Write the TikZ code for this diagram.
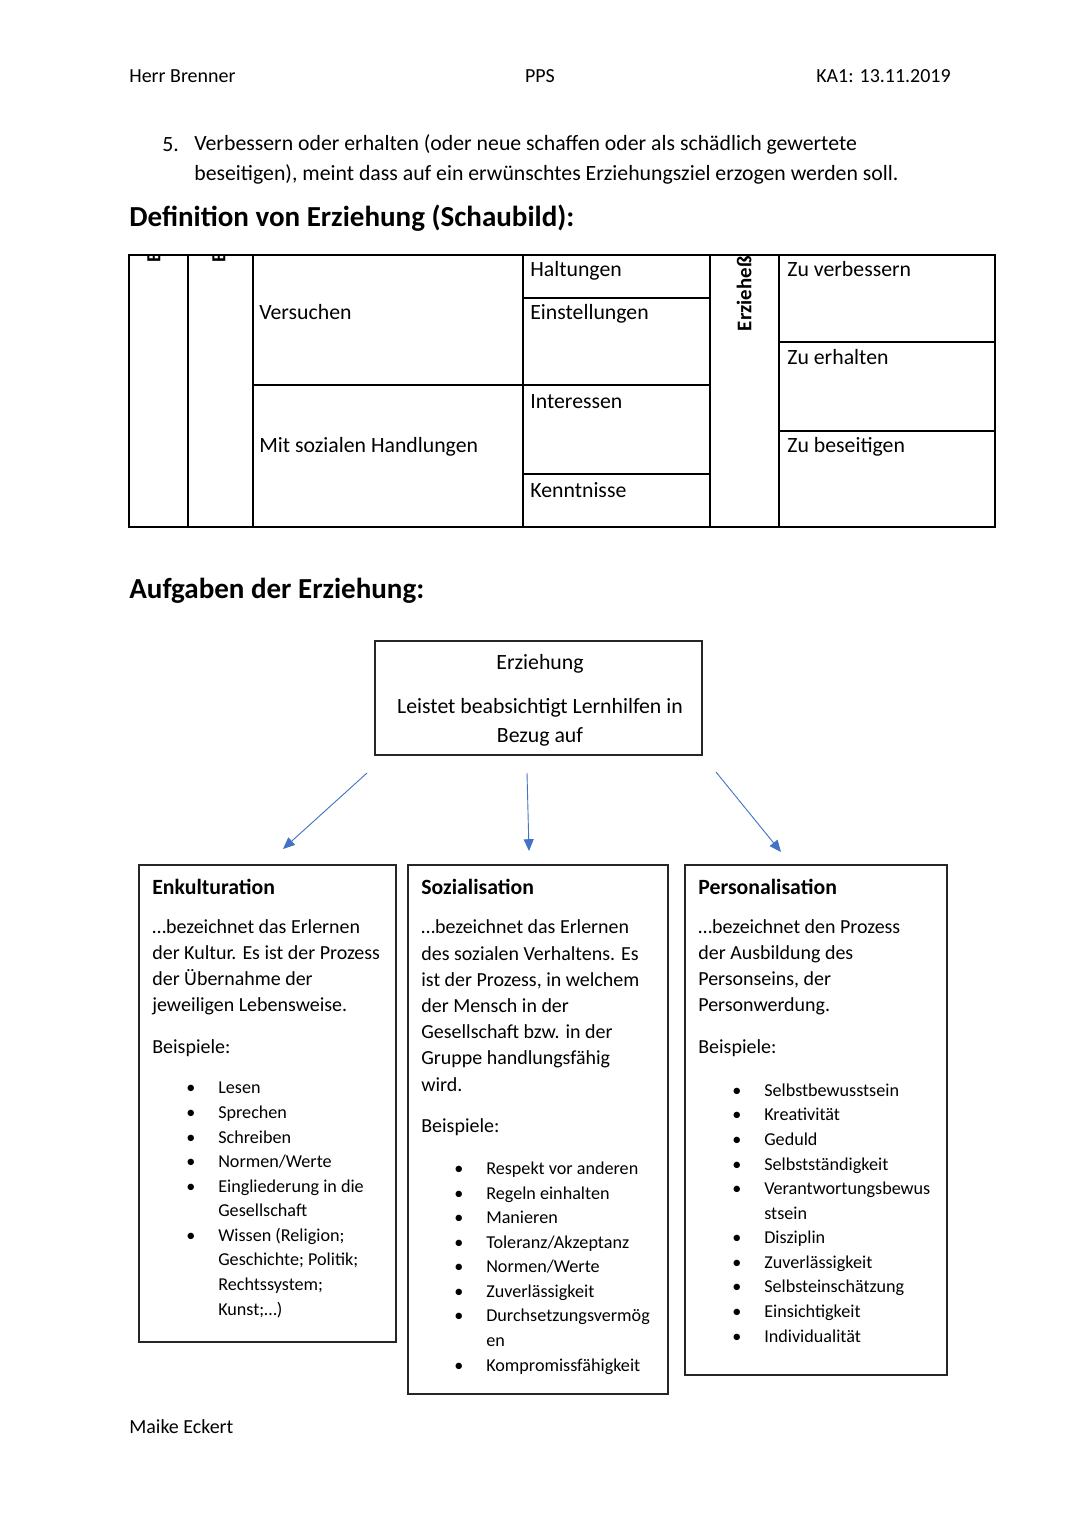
\documentclass[tikz,border=0pt]{standalone}
\usepackage{fontspec}
\setmainfont{Carlito}
\usetikzlibrary{positioning,arrows.meta}
\definecolor{arblue}{HTML}{4472C4}
\newcommand{\bul}{\makebox[17.6pt][l]{\textbullet}}
\newcommand{\bulgap}{\hspace*{17.6pt}}

\begin{document}
\begin{tikzpicture}[x=0.5513pt,y=-0.5513pt,
  txt/.style={inner sep=0,anchor=base west,font=\fontsize{11}{14.3}\selectfont},
  big/.style={inner sep=0,anchor=base west,font=\fontsize{12}{14.5}\selectfont},
  para/.style={inner sep=0,anchor=base west,align=left,font=\fontsize{11}{14.3}\selectfont},
  list/.style={inner sep=0,anchor=base west,align=left,font=\fontsize{10}{13.54}\selectfont},
  head/.style={inner sep=0,anchor=base west,font=\fontsize{16}{19}\selectfont\bfseries},
  title/.style={inner sep=0,anchor=base west,font=\fontsize{12}{14}\selectfont\bfseries},
  tline/.style={line width=1.1pt},
  box/.style={draw=black!85,line width=0.8pt,rectangle,inner sep=0},
  arr/.style={-{Triangle[length=6.5pt,width=5.5pt]},arblue,line width=0.5pt}]
\useasboundingbox[fill=white] (0,0) rectangle (1080,1527);
% page header
\node[txt] (hdl) at (129,82) {Herr Brenner};
\node[txt,anchor=base] (hdm) at (540,82) {PPS};
\node[txt,anchor=base east] (hdr) at (951,82) {KA1: 13.11.2019};
\node[big] (num5) at (162,151) {5.};
\node[big,align=left,font=\fontsize{12}{16}\selectfont] (item5) at (194,180) {Verbessern oder erhalten (oder neue schaffen oder als sch\"adlich gewertete\\beseitigen), meint dass auf ein erw\"unschtes Erziehungsziel erzogen werden soll.};
\node[head] (defhead) at (129,226) {Definition von Erziehung (Schaubild):};
% table
\draw[tline] (129,255) rectangle (995,527);
\foreach \cx in {188,253,523,710,779} \draw[tline] (\cx,255) -- (\cx,527);
\draw[tline] (253,385) -- (523,385);
\foreach \cy in {298,385,474} \draw[tline] (523,\cy) -- (710,\cy);
\foreach \cy in {342,431} \draw[tline] (779,\cy) -- (995,\cy);
\begin{scope}
  \clip (129,256) rectangle (253,527);
  \node[rotate=90,anchor=west,inner sep=0,font=\fontsize{11}{13}\selectfont\bfseries] (e1) at (154,263) {E};
  \node[rotate=90,anchor=west,inner sep=0,font=\fontsize{11}{13}\selectfont\bfseries] (e2) at (219,263) {E};
\end{scope}
\node[big] (halt) at (530,276) {Haltungen};
\node[big] (vers) at (259,319) {Versuchen};
\node[big] (einst) at (530,319) {Einstellungen};
\node[big] (inter) at (530,408) {Interessen};
\node[big] (handl) at (259,452) {Mit sozialen Handlungen};
\node[big] (kennt) at (530,497) {Kenntnisse};
\node[big] (verb) at (787,276) {Zu verbessern};
\node[big] (erh) at (787,364) {Zu erhalten};
\node[big] (besei) at (787,452) {Zu beseitigen};
\node[rotate=90,anchor=east,inner sep=0,font=\fontsize{11.5}{13}\selectfont\bfseries] (erzd) at (744,256) {Erziehe\ss};
% tasks
\node[head] (aufhead) at (129,598) {Aufgaben der Erziehung:};
\node[box,minimum width=180.3pt,minimum height=62.8pt] (lern) at (538.5,698) {};
\node[big,anchor=base] (lt1) at (540,669) {Erziehung};
\node[big,anchor=base] (lt2) at (540,713) {Leistet beabsichtigt Lernhilfen in};
\node[big,anchor=base] (lt3) at (540,742) {Bezug auf};
\node[box,minimum width=141.7pt,minimum height=263pt] (enk) at (267.5,1103.5) {};
\node[box,minimum width=143.3pt,minimum height=291.6pt] (soz) at (538,1129.5) {};
\node[box,minimum width=144.4pt,minimum height=281.2pt] (pers) at (816,1120) {};
\coordinate (a1) at (367,773); \coordinate (b1) at (283,849);
\coordinate (a2) at (527,773); \coordinate (b2) at (529,851);
\coordinate (a3) at (716,772); \coordinate (b3) at (781,852);
\draw[arr] (a1) -- (b1);
\draw[arr] (a2) -- (b2);
\draw[arr] (a3) -- (b3);
% Enkulturation
\node[title] (enkt) at (152,894) {Enkulturation};
\node[para] (enkp) at (152,1011) {\dots bezeichnet das Erlernen\\der Kultur. Es ist der Prozess\\der \"Ubernahme der\\jeweiligen Lebensweise.};
\node[txt] (enkb) at (152,1053) {Beispiele:};
\node[list] (enkl) at (186,1315) {\bul Lesen\\\bul Sprechen\\\bul Schreiben\\\bul Normen/Werte\\\bul Eingliederung in die\\\bulgap Gesellschaft\\\bul Wissen (Religion;\\\bulgap Geschichte; Politik;\\\bulgap Rechtssystem;\\\bulgap Kunst;\dots)};
% Sozialisation
\node[title] (sozt) at (421,894) {Sozialisation};
\node[para,font=\fontsize{11}{14.43}\selectfont] (sozp) at (421,1091) {\dots bezeichnet das Erlernen\\des sozialen Verhaltens. Es\\ist der Prozess, in welchem\\der Mensch in der\\Gesellschaft bzw. in der\\Gruppe handlungsf\"ahig\\wird.};
\node[txt] (sozb) at (421,1132) {Beispiele:};
\node[list] (sozl) at (454,1371) {\bul Respekt vor anderen\\\bul Regeln einhalten\\\bul Manieren\\\bul Toleranz/Akzeptanz\\\bul Normen/Werte\\\bul Zuverl\"assigkeit\\\bul Durchsetzungsverm\"og\\\bulgap en\\\bul Kompromissf\"ahigkeit};
% Personalisation
\node[title] (perst) at (698,894) {Personalisation};
\node[para] (persp) at (698,1011) {\dots bezeichnet den Prozess\\der Ausbildung des\\Personseins, der\\Personwerdung.};
\node[txt] (persb) at (698,1053) {Beispiele:};
\node[list] (persl) at (732,1342) {\bul Selbstbewusstsein\\\bul Kreativit\"at\\\bul Geduld\\\bul Selbstst\"andigkeit\\\bul Verantwortungsbewus\\\bulgap stsein\\\bul Disziplin\\\bul Zuverl\"assigkeit\\\bul Selbsteinsch\"atzung\\\bul Einsichtigkeit\\\bul Individualit\"at};
% footer
\node[txt] (ftr) at (129,1433) {Maike Eckert};
\end{tikzpicture}
\end{document}
